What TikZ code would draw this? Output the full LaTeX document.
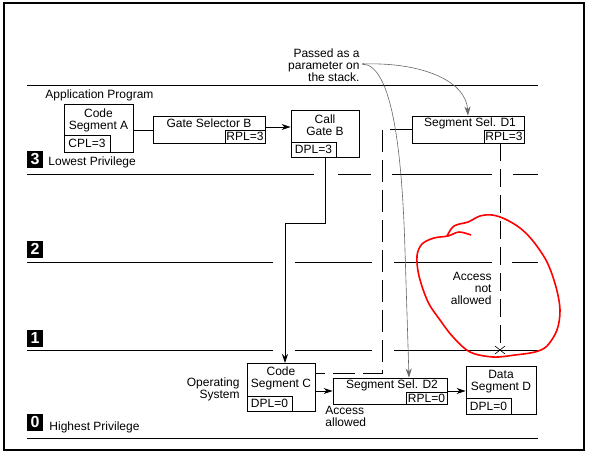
\documentclass[tikz,border=0pt]{standalone}
\usepackage{fontspec}
\setmainfont{Liberation Sans}
\usetikzlibrary{arrows.meta,calc}
\begin{document}
\begin{tikzpicture}[x=1pt,y=-1pt,line width=0.9pt,
  every node/.style={font=\fontsize{12}{12}\selectfont, inner sep=0pt},
  box/.style={draw, line width=0.9pt},
  ring/.style={fill=black, text=white, font=\bfseries\fontsize{16}{16}\selectfont, minimum width=16pt, minimum height=17pt},
  arr/.style={-{Stealth[length=9pt,width=6pt]}},
  garr/.style={black!60, line width=0.6pt, -{Stealth[length=9pt,width=6pt]}},
  dash1/.style={dash pattern=on 22pt off 8pt},
  lvl/.style={line width=0.9pt}
]
\useasboundingbox (0,0) rectangle (590,455);
\draw[line width=1.1pt] (4,3) rectangle (584,450);

% level lines
\draw[lvl] (27,85) -- (538,85);
\draw[lvl] (27,174) -- (314,174) (338,174) -- (371,174) (392,174) -- (492,174) (513,174) -- (538,174);
\draw[lvl] (27,262) -- (273,262) (295,262) -- (372,262) (394,262) -- (492,262) (512,262) -- (538,262);
\draw[lvl] (27,350) -- (273,350) (295,350) -- (372,350) (394,350) -- (538,350);
\draw[lvl] (27,438) -- (538,438);

% ring numbers
\node[ring] (r3) at (35,159) {3};
\node[ring] (r2) at (35,249) {2};
\node[ring] (r1) at (35,338) {1};
\node[ring] (r0) at (35,422) {0};
\node[anchor=west] (lowp) at (48,162) {Lowest Privilege};
\node[anchor=west] (highp) at (49,427) {Highest Privilege};
\node[anchor=west] (app) at (45,95) {Application Program};
\node[anchor=east, align=right] (os) at (240,389) {Operating\\System};

% Code Segment A
\node[box, minimum width=69pt, minimum height=48pt] (A) at (98.5,128) {};
\node[align=center] (At) at ($(A.north)+(0,16.5)$) {Code\\Segment A};
\node[box, anchor=south west, minimum width=46pt, minimum height=17pt] (Ad) at (A.south west) {CPL=3};

% Gate Selector B
\node[box, minimum width=112pt, minimum height=27pt] (GS) at (209,129.5) {};
\node (GSt) at ($(GS.north)+(0,8)$) {Gate Selector B};
\node[box, anchor=south east, minimum width=40pt, minimum height=13pt] (GSr) at (GS.south east) {RPL=3};

% Call Gate B
\node[box, minimum width=68pt, minimum height=47pt] (CG) at (325,133.5) {};
\node[align=center] (CGt) at ($(CG.north)+(0,16)$) {Call\\Gate B};
\node[box, anchor=south west, minimum width=45pt, minimum height=15pt] (CGd) at (CG.south west) {DPL=3};

% Segment Sel. D1
\node[box, minimum width=112pt, minimum height=27pt] (D1) at (468,129.5) {};
\node (D1t) at ($(D1.north)+(2,8)$) {Segment Sel. D1};
\node[box, anchor=south east, minimum width=40pt, minimum height=13pt] (D1r) at (D1.south east) {RPL=3};

% Code Segment C
\node[box, minimum width=68pt, minimum height=48pt] (CC) at (281,387) {};
\node[align=center] (CCt) at ($(CC.north)+(0,16)$) {Code\\Segment C};
\node[box, anchor=south west, minimum width=45pt, minimum height=15pt] (CCd) at (CC.south west) {DPL=0};

% Segment Sel. D2
\node[box, minimum width=114pt, minimum height=26pt] (D2) at (390,391) {};
\node (D2t) at ($(D2.north)+(2,8)$) {Segment Sel. D2};
\node[box, anchor=south east, minimum width=41pt, minimum height=12pt] (D2r) at (D2.south east) {RPL=0};

% Data Segment D
\node[box, minimum width=70pt, minimum height=48pt] (DD) at (501,390) {};
\node[align=center] (DDt) at ($(DD.north)+(0,16.5)$) {Data\\Segment D};
\node[box, anchor=south west, minimum width=45pt, minimum height=16pt] (DDd) at (DD.south west) {DPL=0};

\node[anchor=north west, align=left] (acc) at (325,406) {Access\\allowed};
\node[anchor=east, align=right] (nacc) at (492,288) {Access\\not\\allowed};
\node[anchor=east, align=right] (pass) at (360,65) {Passed as a\\parameter on\\the stack.};

% connectors
\draw (A.east |- 0,130) -- (GS.west |- 0,130);
\draw[arr] (GS.east |- 0,127) -- (CG.west |- 0,127);
\draw[arr] (CG.south) -- (325,223) -- (285,223) -- (285,363);
\draw[arr] (CC.east |- D2.west) -- (D2.west);
\draw[arr] (D2.east) -- (D2.east -| DD.west);

\draw[dash1] (D1.west) -- (382,129.5) -- (382,373) -- (CC.east |- 0,373);

\coordinate (X) at (500,350);
\draw[dash pattern=on 18pt off 8pt] (D1r.south -| X) -- (X);
\draw[line width=0.6pt] ($(X)+(-5,-4)$) -- ($(X)+(5,4)$) ($(X)+(-5,4)$) -- ($(X)+(5,-4)$);

% gray curves
\coordinate (P) at (363,64);
\fill[black!60] (P) circle (1pt);
\draw[garr] (P) .. controls (420,62) and (466,80) .. (D1.north);
\draw[garr] (P) .. controls (392,66) and (402,150) .. (405,250) -- ($(D2.north)+(19,0)$);

% red hand-drawn circle
\draw[red, line width=1.6pt] plot[smooth, tension=0.55] coordinates {
(471,235) (459,232) (448,236) (434,238) (422,244) (417,256) (419,276) (428,302)
(440,320) (453,337) (470,352) (493,357) (515,355) (535,352) (547,346) (557,330)
(560,310) (556,287) (547,262) (533,241) (520,228) (505,219) (492,215) (480,216)
(468,222) (454,226) (447,236)};
\end{tikzpicture}
\end{document}
